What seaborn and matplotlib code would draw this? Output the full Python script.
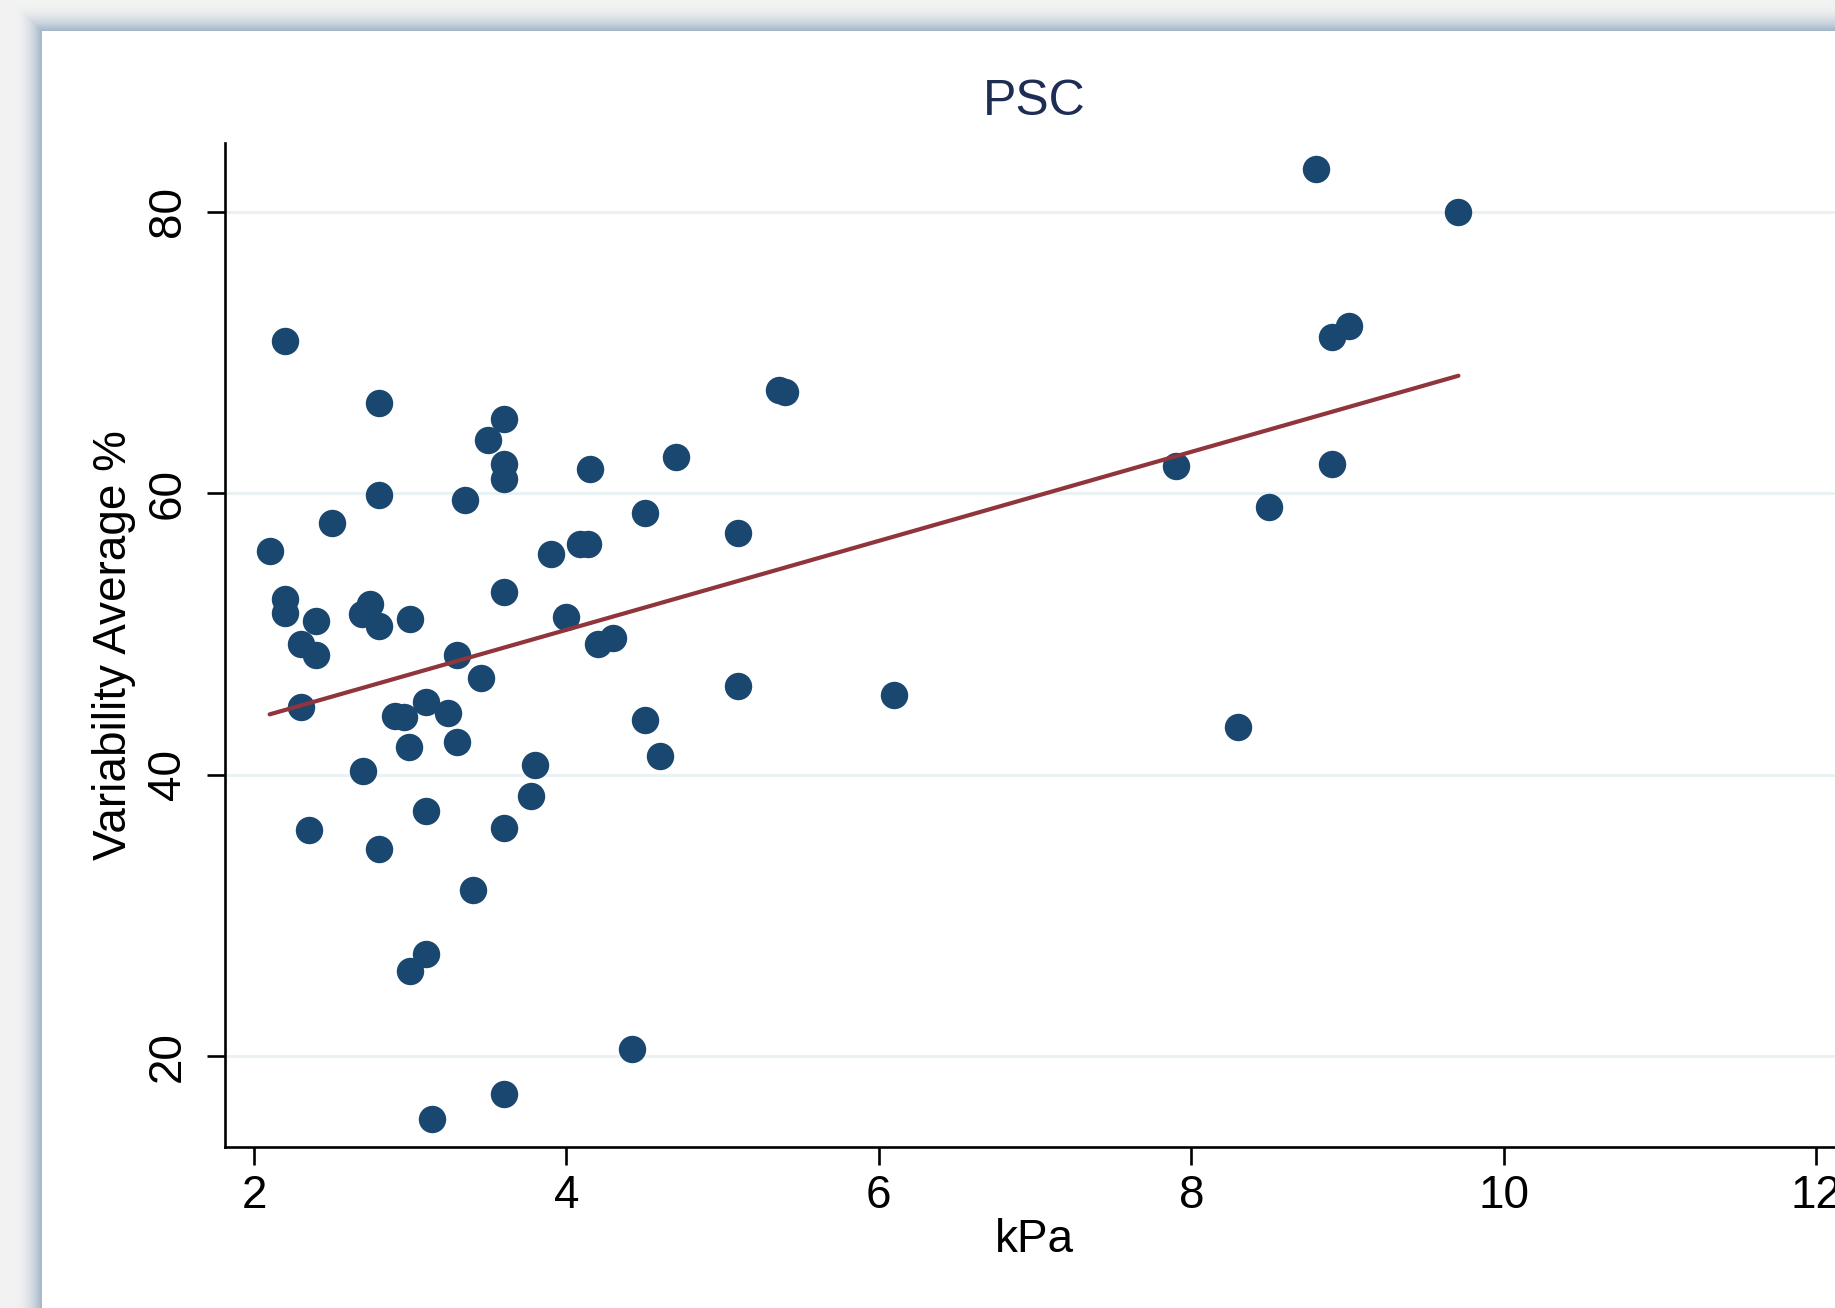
import numpy as np
import matplotlib
matplotlib.use("Agg")
import matplotlib.pyplot as plt
import matplotlib.colors as mcolors
from matplotlib.patches import Rectangle
import seaborn as sns

# ---- data ----
kpa = [2.10, 2.20, 2.20, 2.20, 2.30, 2.30, 2.35, 2.40, 2.40, 2.50,
       2.69, 2.74, 2.80, 2.70, 2.80, 2.80, 2.80, 2.90, 2.96, 3.00,
       2.99, 3.00, 3.10, 3.10, 3.10, 3.14, 3.24, 3.30, 3.30, 3.35,
       3.40, 3.45, 3.50, 3.60, 3.60, 3.60, 3.60, 3.60, 3.60, 3.77,
       3.80, 3.90, 4.00, 4.085, 4.135, 4.15, 4.20, 4.30, 4.42, 4.50,
       4.50, 4.60, 4.70, 5.10, 5.10, 5.36, 5.40, 6.10, 7.90, 8.30,
       8.50, 8.80, 8.90, 8.90, 9.01, 9.71]
variability = [55.9, 70.8, 52.5, 51.5, 49.3, 44.8, 36.1, 50.9, 48.5, 57.9,
               51.4, 52.1, 50.6, 40.3, 66.4, 59.9, 34.7, 44.2, 44.1, 51.1,
               42.0, 26.1, 45.2, 37.4, 27.3, 15.55, 44.4, 48.5, 42.35, 59.5,
               31.8, 46.85, 63.8, 65.3, 62.1, 61.0, 53.0, 36.2, 17.3, 38.5,
               40.7, 55.7, 51.2, 56.4, 56.4, 61.7, 49.3, 49.7, 20.5, 58.6,
               43.9, 41.3, 62.55, 57.2, 46.3, 67.3, 67.2, 45.7, 61.9, 43.4,
               59.0, 83.0, 71.07, 62.1, 71.9, 80.0]
x_ticks = [2, 4, 6, 8, 10, 12]
y_ticks = [20, 40, 60, 80]
title_text = "PSC"
x_label = "kPa"
y_label = "Variability Average %"

sns.set_style("white")
plt.rcParams["font.family"] = ["Liberation Sans", "DejaVu Sans"]

W, H = 1835, 1308
fig = plt.figure(figsize=(W / 100, H / 100), dpi=100, facecolor="#f2f2f2")

# ---- window frame / shadow ----
light = np.array(mcolors.to_rgb("#f2f2f2"))
dark = np.array(mcolors.to_rgb("#9db2c6"))
px0, py0 = 42, 31
D = 30
for d in range(D, 0, -1):
    t = (1 - d / D) ** 2.2
    c = light * (1 - t) + dark * t
    fig.patches.append(Rectangle(((px0 - d) / W, 0), 1.5, (H - (py0 - d)) / H,
                                 transform=fig.transFigure, facecolor=c,
                                 edgecolor="none", zorder=-10))
fig.patches.append(Rectangle((px0 / W, 0), 1.5, (H - py0) / H,
                             transform=fig.transFigure, facecolor="white",
                             edgecolor="none", zorder=-9))

# ---- axes ----
left_px, right_px, top_px, bot_px = 224.7, 1863.0, 142.8, 1147.0
ax = fig.add_axes([left_px / W, (H - bot_px) / H,
                   (right_px - left_px) / W, (bot_px - top_px) / H])
ax.set_facecolor("none")

sns.scatterplot(x=kpa, y=variability, ax=ax, color="#1a476f", s=390,
                linewidth=0, zorder=3)
sns.regplot(x=kpa, y=variability, ax=ax, scatter=False, ci=None,
            color="#90353b", line_kws=dict(lw=3.0, zorder=4))

ax.set_xlim(1.8124, 12.3)
ax.set_ylim(13.566, 84.886)
ax.set_xticks(x_ticks)
ax.set_yticks(y_ticks)
ax.yaxis.grid(True, color="#eaf2f3", lw=2.2)
ax.xaxis.grid(False)
ax.set_axisbelow(True)

for s in ["top", "right"]:
    ax.spines[s].set_visible(False)
for s in ["left", "bottom"]:
    ax.spines[s].set_color("black")
    ax.spines[s].set_linewidth(1.9)

ax.tick_params(axis="both", direction="out", length=13, width=1.9,
               color="black", labelcolor="black", labelsize=33)
ax.tick_params(axis="x", pad=6.5, bottom=True)
ax.tick_params(axis="y", pad=12, left=True)
for lab in ax.get_yticklabels():
    lab.set_rotation(90)
    lab.set_va("center")

ax.set_xlabel(x_label, fontsize=33, color="black")
ax.xaxis.set_label_coords(0.4943, -0.1043)
ax.xaxis.label.set_va("baseline")
ax.set_ylabel(y_label, fontsize=33, color="black")
ax.yaxis.set_label_coords(-0.054, 0.5)

ax.set_title(title_text, x=0.4943, y=(bot_px - 115) / (bot_px - top_px),
             va="baseline", pad=0, fontsize=36, color="#1e2d53")

fig.savefig("out.png", dpi=100)
